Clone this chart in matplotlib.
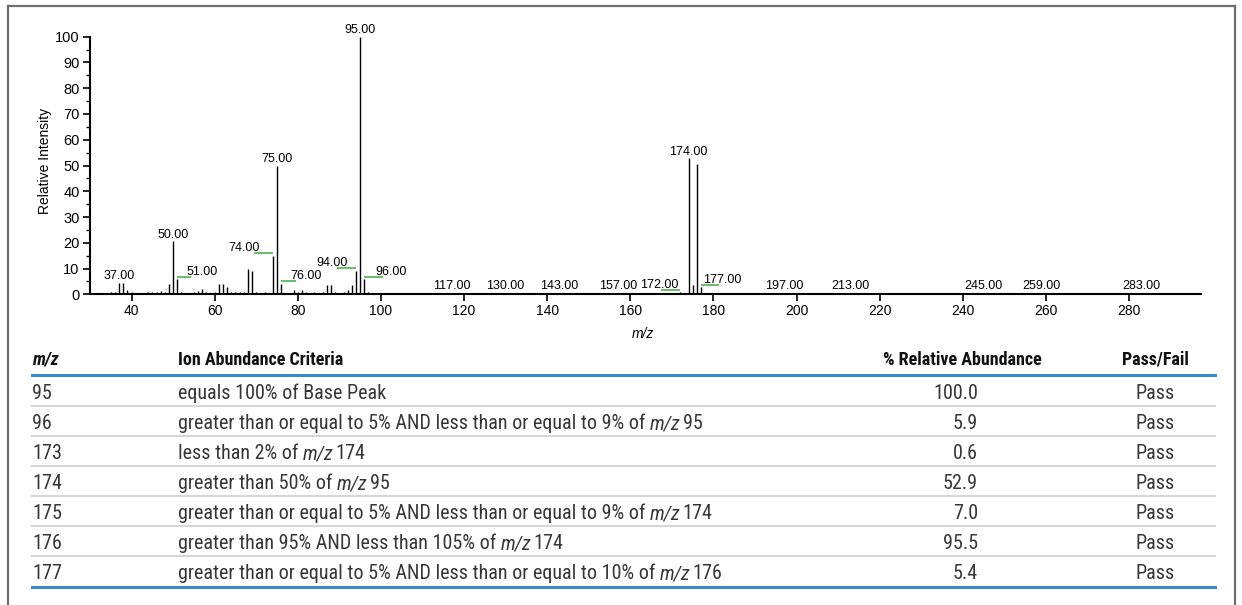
import matplotlib
matplotlib.use("Agg")
import matplotlib.pyplot as plt
from matplotlib import font_manager
from matplotlib.font_manager import FontProperties
from matplotlib.lines import Line2D
from matplotlib.ticker import MultipleLocator

# spectrum peaks: m/z and relative intensity (%)
mz = [35, 36, 37, 38, 39, 40, 44, 45, 46, 47, 48, 49, 50, 51, 52, 55, 56, 57,
      58, 60, 61, 62, 63, 64, 65, 66, 67, 68, 69, 70, 72, 74, 75, 76, 77, 79,
      80, 81, 82, 84, 86, 87, 88, 89, 91, 92, 93, 94, 95, 96, 97, 102, 104,
      106, 108, 112, 114, 115, 116, 117, 128, 129, 130, 131, 140, 141, 142,
      143, 144, 148, 150, 154, 155, 156, 157, 158, 167, 172, 173, 174, 175,
      176, 177, 197, 213, 216, 245, 259, 275, 283]
intensity = [0.8, 0.8, 4.5, 4.2, 1.5, 0.8, 0.8, 0.8, 0.8, 1.2, 1.0, 4.0, 20.6,
             5.8, 0.8, 0.8, 1.2, 2.0, 0.8, 0.8, 4.0, 4.0, 3.0, 0.8, 0.8, 0.8,
             0.8, 10.0, 9.2, 0.8, 0.8, 15.0, 50.0, 4.1, 0.6, 1.5, 1.0, 1.5,
             0.8, 0.8, 0.8, 3.5, 3.5, 0.8, 0.8, 1.8, 3.5, 9.2, 100.0, 5.9, 0.8,
             0.5, 0.5, 0.5, 0.5, 0.5, 0.5, 0.5, 0.6, 0.6, 0.5, 0.5, 0.6, 0.5,
             0.5, 0.5, 0.5, 0.6, 0.5, 0.5, 0.5, 0.5, 0.5, 0.5, 0.6, 0.5, 0.5,
             0.7, 0.3, 52.9, 3.7, 50.5, 2.7, 0.6, 0.6, 0.6, 0.6, 0.6, 0.5, 0.6]

# peaks labelled straight above the bar
top_labels = [37, 50, 75, 95, 117, 130, 143, 157, 174, 197, 213, 245, 259, 283]
# peaks labelled beside a green leader
side_labels = [51, 74, 76, 94, 96, 172, 177]

# tune criteria table
tbl_mz = ["95", "96", "173", "174", "175", "176", "177"]
tbl_criteria = [
    "equals 100% of Base Peak",
    "greater than or equal to 5% AND less than or equal to 9% of m/z 95",
    "less than 2% of m/z 174",
    "greater than 50% of m/z 95",
    "greater than or equal to 5% AND less than or equal to 9% of m/z 174",
    "greater than 95% AND less than 105% of m/z 174",
    "greater than or equal to 5% AND less than or equal to 10% of m/z 176",
]
tbl_abundance = [100.0, 5.9, 0.6, 52.9, 7.0, 95.5, 5.4]
tbl_result = ["Pass", "Pass", "Pass", "Pass", "Pass", "Pass", "Pass"]

W, H = 1242, 605
SANS = "Liberation Sans"
plt.rcParams["font.family"] = [SANS, "DejaVu Sans"]

GREEN = "#5cb85c"
BLUE = "#3d8ac9"


def _weight(f):
    w = f.weight
    if isinstance(w, str):
        w = font_manager.weight_dict.get(w, 400)
    return w


def condensed_font(bold=False, italic=False):
    """Path of an installed narrow sans face, or None."""
    found = []
    for f in font_manager.fontManager.ttflist:
        narrow = (f.stretch in ("condensed", "semi-condensed", "extra-condensed")
                  or "Narrow" in f.name or "Condensed" in f.name)
        if not narrow:
            continue
        if (_weight(f) >= 600) != bold:
            continue
        if (f.style != "normal") != italic:
            continue
        found.append(f)
    for key in ("Liberation Sans Narrow", "Roboto", "Noto Sans", "Open Sans",
                "DejaVu Sans", "Lato", "Inter"):
        for f in found:
            if f.name.startswith(key):
                return f.fname
    return found[0].fname if found else None


def make_props(size, bold=False, italic=False):
    path = condensed_font(bold, italic)
    if path:
        return FontProperties(fname=path, size=size)
    return FontProperties(family=SANS, size=size,
                          weight="bold" if bold else "normal",
                          style="italic" if italic else "normal")


def fx(px):
    return px / W


def fy(py):
    return 1 - py / H


fig = plt.figure(figsize=(W / 100, H / 100), dpi=100)
renderer = fig.canvas.get_renderer()

# outer frame (open at the bottom)
frame = dict(color="#6e6e6e", lw=1.6, transform=fig.transFigure)
fig.add_artist(Line2D([fx(8), fx(1235)], [fy(6), fy(6)], **frame))
fig.add_artist(Line2D([fx(8), fx(8)], [fy(6), 0], **frame))
fig.add_artist(Line2D([fx(1235), fx(1235)], [fy(6), 0], **frame))

# ---- spectrum ----
ax = fig.add_axes([fx(90), fy(294.3), (1201 - 90) / W, (294.3 - 36.7) / H])
ax.set_xlim(30, 297.3)
ax.set_ylim(0, 100)
ax.vlines(mz, 0, intensity, colors="black", lw=1.0)

for s in ("top", "right"):
    ax.spines[s].set_visible(False)
for s in ("left", "bottom"):
    ax.spines[s].set_linewidth(1.5)
ax.set_xticks(range(40, 281, 20))
ax.set_yticks(range(0, 101, 10))
ax.yaxis.set_minor_locator(MultipleLocator(5))
ax.tick_params(axis="x", length=5, width=1.2, pad=2, labelsize=10)
ax.tick_params(axis="y", which="major", length=5, width=1.2, pad=2.5, labelsize=10.5)
ax.tick_params(axis="y", which="minor", length=3, width=1.0)

peak = dict(zip(mz, intensity))
for m in top_labels:
    ax.annotate(f"{m:.2f}", (m, peak[m]), xytext=(0, 2.5), textcoords="offset points",
                ha="center", va="baseline", fontsize=9, annotation_clip=False)

# leader direction, leader length and text gap (m/z units)
side_dir = {51: 1, 74: -1, 76: 1, 94: -1, 96: 1, 172: -1, 177: 1}
side_len = {51: 3.2, 74: 4.6, 76: 3.6, 94: 4.6, 96: 4.6, 172: 4.7, 177: 4.4}
side_gap = {51: 2.3, 74: 3.1, 76: 2.1, 94: 2.1, 96: 2.7, 172: 0.5, 177: 0.6}
for m in side_labels:
    d = side_dir[m]
    y = peak[m] + 0.9
    ax.plot([m, m + d * side_len[m]], [y, y], color=GREEN, lw=1.3, solid_capstyle="butt")
    ax.annotate(f"{m:.2f}", (m + d * side_gap[m], y), xytext=(0, 1.5),
                textcoords="offset points", ha="left" if d > 0 else "right",
                va="baseline", fontsize=9)

fig.text(fx(45), fy(161), "Relative Intensity", rotation=90, ha="center",
         va="center", fontsize=10)
fig.text(fx(643), fy(334), "m/z", style="italic", ha="center", va="center",
         fontsize=10)


# ---- table ----
def text_width(s, fp):
    t = fig.text(0, 0, s, fontproperties=fp)
    w = t.get_window_extent(renderer).width
    t.remove()
    return w


# size the narrow faces so the widest criteria line and the header span
# their columns
probe = make_props(12)
row_size = 12 * 528 / text_width(tbl_criteria[1], probe)
row_size = min(max(row_size, 10.5), 15.5)
probe_b = make_props(11, bold=True)
head_size = 11 * 168 / text_width("Ion Abundance Criteria", probe_b)
head_size = min(max(head_size, 10), 13)

fp_row = make_props(row_size)
fp_row_it = make_props(row_size, italic=True)
fp_head = make_props(head_size, bold=True)
fp_head_it = make_props(head_size, bold=True, italic=True)

space_w = text_width("a a", fp_row) - text_width("aa", fp_row)


def rich_text(x, y, s, color):
    """Draw s left-aligned at pixel (x, y) with every 'm/z' in italics."""
    parts = s.split("m/z")
    for i, part in enumerate(parts):
        if i > 0:
            t = fig.text(fx(x), fy(y), "m/z", fontproperties=fp_row_it, ha="left",
                         va="baseline", color=color)
            x += t.get_window_extent(renderer).width
        if part:
            lead = len(part) - len(part.lstrip(" "))
            trail = len(part) - len(part.rstrip(" "))
            x += lead * space_w * (0.45 if i > 0 else 1.0)
            core = part.strip(" ")
            if core:
                t = fig.text(fx(x), fy(y), core, fontproperties=fp_row, ha="left",
                             va="baseline", color=color)
                x += t.get_window_extent(renderer).width
            x += trail * space_w


HEAD_C = "#111111"
ROW_C = "#363636"
COL_MZ, COL_CRIT, COL_ABUND, COL_PASS = 32, 178, 978, 1155
hy = 365
fig.text(fx(COL_MZ), fy(hy), "m/z", fontproperties=fp_head_it, ha="left",
         va="baseline", color=HEAD_C)
fig.text(fx(COL_CRIT), fy(hy), "Ion Abundance Criteria", fontproperties=fp_head,
         ha="left", va="baseline", color=HEAD_C)
fig.text(fx(962), fy(hy), "% Relative Abundance", fontproperties=fp_head,
         ha="center", va="baseline", color=HEAD_C)
fig.text(fx(COL_PASS), fy(hy), "Pass/Fail", fontproperties=fp_head, ha="center",
         va="baseline", color=HEAD_C)

x0, x1 = 32, 1215
for i in range(len(tbl_mz)):
    yc = 390.7 + 30 * i
    yb = yc + 8.5
    fig.text(fx(COL_MZ), fy(yb), tbl_mz[i], fontproperties=fp_row, ha="left",
             va="baseline", color=ROW_C)
    rich_text(COL_CRIT, yb, tbl_criteria[i], ROW_C)
    fig.text(fx(COL_ABUND), fy(yb), f"{tbl_abundance[i]:.1f}", fontproperties=fp_row,
             ha="right", va="baseline", color=ROW_C)
    fig.text(fx(COL_PASS), fy(yb), tbl_result[i], fontproperties=fp_row, ha="center",
             va="baseline", color=ROW_C)
    if i < len(tbl_mz) - 1:
        fig.add_artist(Line2D([fx(x0), fx(x1)], [fy(yc + 15)] * 2, color="#d6d6d6",
                              lw=1.5, transform=fig.transFigure))

for yl in (375, 587):
    fig.add_artist(Line2D([fx(x0), fx(x1)], [fy(yl)] * 2, color=BLUE, lw=2.2,
                          transform=fig.transFigure))

fig.savefig("out.png", dpi=100)
